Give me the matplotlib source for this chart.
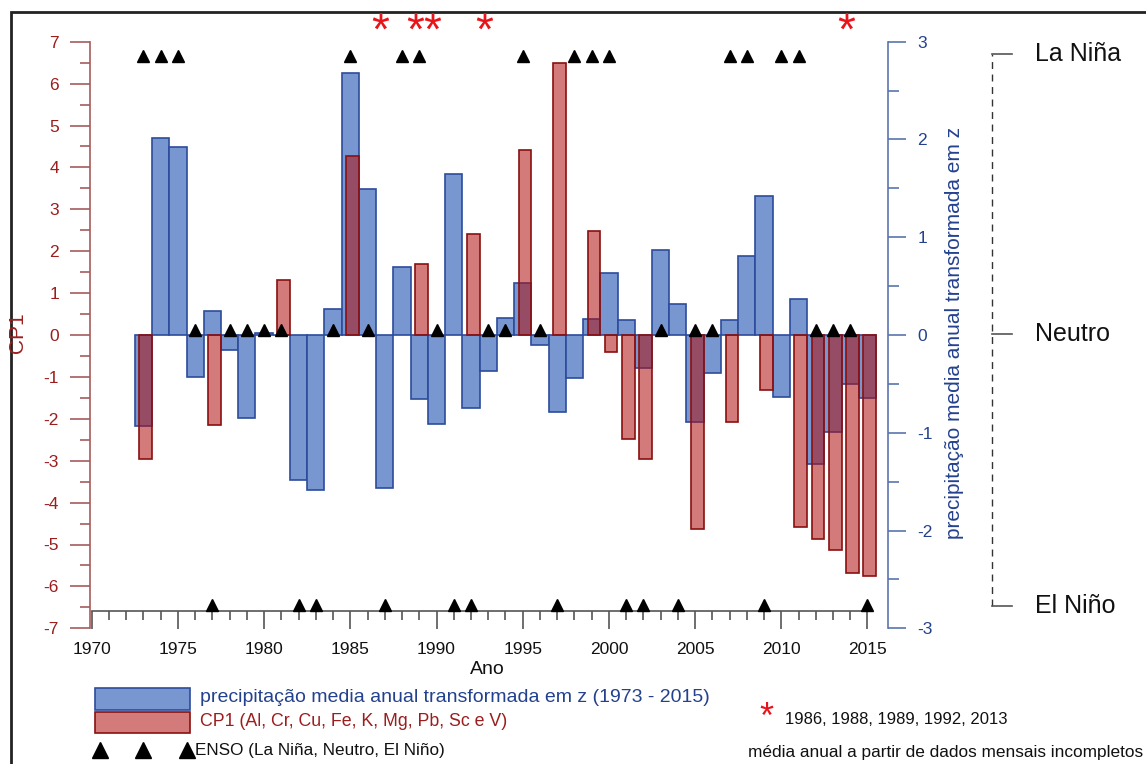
import matplotlib
matplotlib.use("Agg")
import matplotlib.pyplot as plt
import matplotlib.transforms as mtransforms
from matplotlib.patches import Rectangle
from matplotlib.lines import Line2D

plt.rcParams["font.family"] = ["Liberation Sans", "DejaVu Sans"]
plt.rcParams["axes.unicode_minus"] = False

# ---- data -------------------------------------------------------------
years = list(range(1973, 2016))
precip_z = [-0.93, 2.01, 1.92, -0.43, 0.25, -0.15, -0.85, 0.02, 0.0, -1.48,
            -1.59, 0.27, 2.68, 1.49, -1.56, 0.70, -0.65, -0.91, 1.65, -0.75,
            -0.37, 0.17, 0.53, -0.10, -0.79, -0.44, 0.16, 0.63, 0.15, -0.34,
            0.87, 0.32, -0.89, -0.39, 0.15, 0.81, 1.42, -0.63, 0.37, -1.32,
            -0.99, -0.50, -0.64]

cp1_years = [1973, 1977, 1981, 1985, 1989, 1992, 1995, 1997, 1999, 2000,
             2001, 2002, 2005, 2007, 2009, 2011, 2012, 2013, 2014, 2015]
cp1_values = [-2.95, -2.15, 1.31, 4.27, 1.70, 2.42, 4.42, 6.48, 2.48, -0.41,
              -2.49, -2.96, -4.63, -2.07, -1.31, -4.58, -4.88, -5.13, -5.69, -5.75]

# ENSO phase per year: 1 = La Niña, 0 = Neutro, -1 = El Niño
enso = [1, 1, 1, 0, -1, 0, 0, 0, 0, -1,
        -1, 0, 1, 0, -1, 1, 1, 0, -1, -1,
        0, 0, 1, 0, -1, 1, 1, 1, -1, -1,
        0, -1, 0, 0, 1, 1, -1, 1, 1, 0,
        0, 0, -1]
enso_names = {1: "La Niña", 0: "Neutro", -1: "El Niño"}

incomplete_years = [1986, 1988, 1989, 1992, 2013]
x_major = list(range(1970, 2016, 5))
x_minor = list(range(1970, 2016))
cp1_ticks = list(range(-7, 8))
z_ticks = list(range(-3, 4))

# ---- styles -----------------------------------------------------------
BLUE_FILL = "#7896cf"
BLUE_EDGE = "#2c4c9c"
BLUE_TEXT = "#23418e"
BLUE_AXIS = "#5a74ab"
RED_FILL = (0.69, 0.06, 0.06, 0.55)
RED_EDGE = "#8a1010"
RED_TEXT = "#9c1d1d"
RED_AXIS = "#a45c5c"
GREY = "#555555"

W, H = 1146, 764
fig = plt.figure(figsize=(W / 100, H / 100), dpi=100)


def fx(px):
    return px / W


def fy(py):
    return 1 - py / H


ax = fig.add_axes([fx(90), fy(628.3), fx(888) - fx(90), fy(41.7) - fy(628.3)])
ax2 = ax.twinx()
ax.set_zorder(ax2.get_zorder() + 1)
ax.patch.set_visible(False)

ax.set_xlim(1969.9, 2016.19)
ax.set_ylim(-7, 7)
ax2.set_ylim(-3, 3)

# bars
ax2.bar(years, precip_z, width=1.0, color=BLUE_FILL, edgecolor=BLUE_EDGE,
        linewidth=1.2, zorder=2)
ax.bar([y + 0.13 for y in cp1_years], cp1_values, width=0.73, color=RED_FILL,
       edgecolor=RED_EDGE, linewidth=1.2, zorder=3)

# ENSO triangles
enso_level = {1: 6.66, 0: 0.13, -1: -6.45}
for phase in (1, 0, -1):
    xs = [y for y, e in zip(years, enso) if e == phase]
    ax.plot(xs, [enso_level[phase]] * len(xs), linestyle="none", marker="^",
            markersize=9, color="black", zorder=6, clip_on=False)

# asterisks for years with incomplete monthly data
for y in incomplete_years:
    ax.text(y + 0.75, 6.92, "*", color="#e8141a", fontsize=33, ha="center",
            va="baseline", clip_on=False, zorder=7)

# ---- axes styling -----------------------------------------------------
for side in ("top", "right"):
    ax.spines[side].set_visible(False)
for side in ("top", "left", "bottom"):
    ax2.spines[side].set_visible(False)

ax.spines["left"].set_color(RED_AXIS)
ax.spines["left"].set_linewidth(1.2)
ax.set_yticks(cp1_ticks)
ax.set_yticks([v + 0.5 for v in cp1_ticks[:-1]], minor=True)
ax.tick_params(axis="y", which="major", length=14.4, width=1.2, color=RED_AXIS,
               labelcolor=RED_TEXT, labelsize=12.5, pad=8)
ax.tick_params(axis="y", which="minor", length=7.2, width=1.2, color=RED_AXIS)

ax.spines["bottom"].set_position(("data", -6.59))
ax.spines["bottom"].set_bounds(1970, 2015)
ax.spines["bottom"].set_color(GREY)
ax.spines["bottom"].set_linewidth(1.2)
ax.set_xticks(x_major)
ax.set_xticks(x_minor, minor=True)
ax.tick_params(axis="x", which="major", length=13, width=1.2, color=GREY,
               labelsize=12.5, labelcolor="#111111", pad=9)
ax.tick_params(axis="x", which="minor", length=6.5, width=1.2, color=GREY)

ax2.spines["right"].set_color(BLUE_AXIS)
ax2.spines["right"].set_linewidth(1.2)
ax2.set_yticks(z_ticks)
ax2.set_yticks([v + 0.5 for v in z_ticks[:-1]], minor=True)
ax2.tick_params(axis="y", which="major", length=13, width=1.2, color=BLUE_AXIS,
                labelcolor=BLUE_TEXT, labelsize=12.5, pad=8)
ax2.tick_params(axis="y", which="minor", length=8, width=1.2, color=BLUE_AXIS)

fig.text(fx(18), fy(333), "CP1", rotation=90, color=RED_TEXT, fontsize=15,
         ha="center", va="center")
fig.text(fx(955), fy(333), "precipitação media anual transformada em z",
         rotation=90, color=BLUE_TEXT, fontsize=15, ha="center", va="center")
fig.text(fx(487), fy(670), "Ano", fontsize=14, ha="center", va="center",
         color="#111111")

# ---- ENSO scale on the right ------------------------------------------
scale_level = {1: 6.71, 0: 0.02, -1: -6.47}
tr = mtransforms.blended_transform_factory(fig.transFigure, ax.transData)
fig.add_artist(Line2D([fx(992), fx(992)], [scale_level[-1], scale_level[1]],
                      transform=tr, color="#333333", lw=1.0,
                      linestyle=(0, (5, 4))))
for phase in (1, 0, -1):
    fig.add_artist(Line2D([fx(992), fx(1012)],
                          [scale_level[phase], scale_level[phase]],
                          transform=tr, color=GREY, lw=1.2))
    fig.text(fx(1035), scale_level[phase], enso_names[phase], transform=tr,
             fontsize=18, ha="left", va="center", color="#111111")

# ---- legend block -----------------------------------------------------
fig.add_artist(Rectangle((fx(95), fy(710)), fx(190) - fx(95), fy(688) - fy(710),
                         transform=fig.transFigure, facecolor=BLUE_FILL,
                         edgecolor=BLUE_EDGE, linewidth=1.2))
fig.add_artist(Rectangle((fx(95), fy(733)), fx(190) - fx(95), fy(712) - fy(733),
                         transform=fig.transFigure, facecolor=RED_FILL,
                         edgecolor=RED_EDGE, linewidth=1.2))
fig.text(fx(200), fy(698), "precipitação media anual transformada em z (1973 - 2015)",
         color=BLUE_TEXT, fontsize=14, va="center", ha="left")
fig.text(fx(200), fy(722), "CP1 (Al, Cr, Cu, Fe, K, Mg, Pb, Sc e V)",
         color=RED_TEXT, fontsize=12.8, va="center", ha="left")
fig.add_artist(Line2D([fx(100), fx(143), fx(187)], [fy(750)] * 3,
                      transform=fig.transFigure, linestyle="none", marker="^",
                      markersize=11, color="black"))
fig.text(fx(195), fy(750), "ENSO (La Niña, Neutro, El Niño)", color="#111111",
         fontsize=12.3, va="center", ha="left")

fig.text(fx(766), fy(728), "*", color="#e8141a", fontsize=26, ha="center",
         va="baseline")
fig.text(fx(785), fy(720), ", ".join(str(y) for y in incomplete_years),
         fontsize=12, va="center", ha="left", color="#111111")
fig.text(fx(748), fy(752), "média anual a partir de dados mensais incompletos",
         fontsize=12.4, va="center", ha="left", color="#111111")

# outer frame
fig.add_artist(Rectangle((fx(11), -0.02), 1.05 - fx(11), fy(12) + 0.02,
                         transform=fig.transFigure, fill=False,
                         edgecolor="#222222", linewidth=2))

fig.savefig("out.png", dpi=100)
